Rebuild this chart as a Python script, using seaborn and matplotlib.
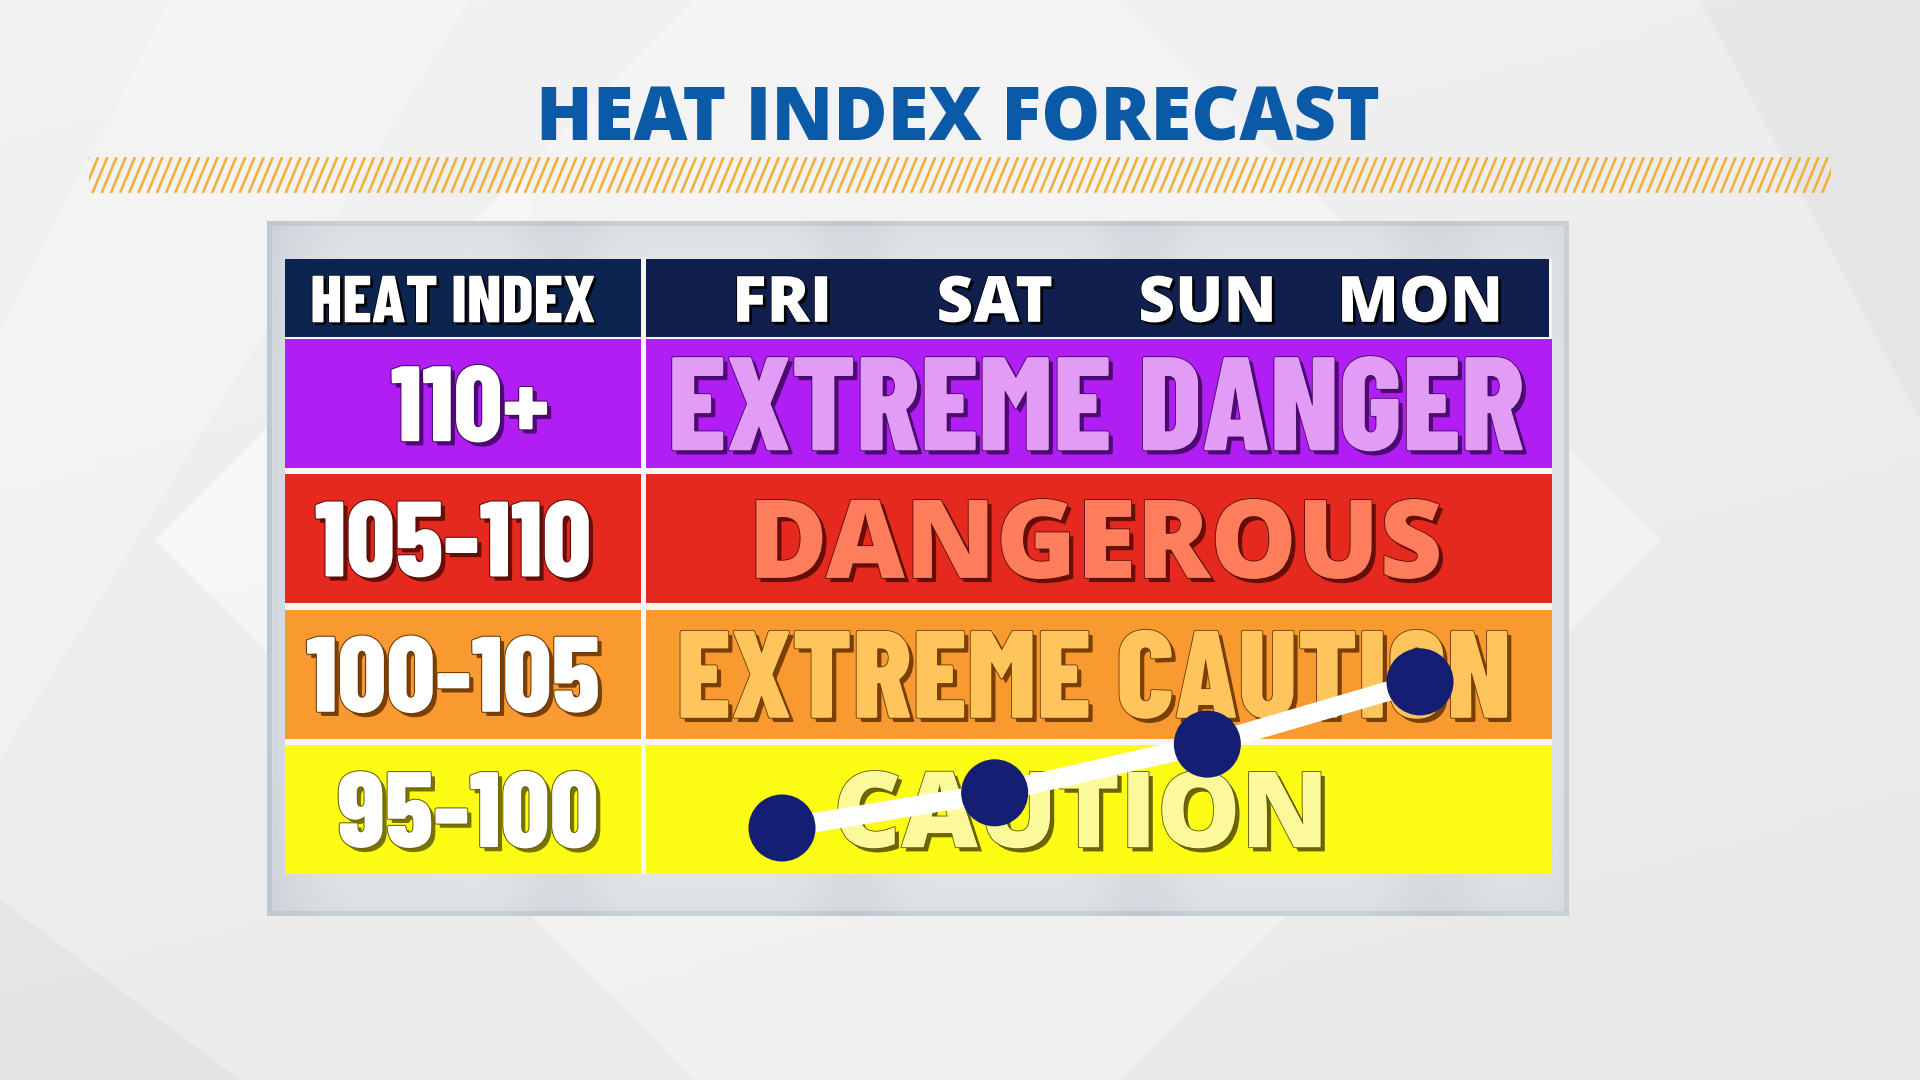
import matplotlib.pyplot as plt
import matplotlib.patheffects as pe
import numpy as np
import pandas as pd
import seaborn as sns

from matplotlib.collections import LineCollection
from matplotlib.colors import LinearSegmentedColormap
from matplotlib.patches import Polygon, Rectangle

sns.set_theme(style='white')
WIDE = ['Open Sans', 'DejaVu Sans']
NARROW = ['Barlow Condensed', 'Roboto Condensed', 'DejaVu Sans']
plt.rcParams['font.family'] = WIDE

# data
days = ['FRI', 'SAT', 'SUN', 'MON']
heat_index = [96.7, 98.0, 99.8, 102.1]

band_lows = [95, 100, 105, 110]
band_ranges = ['95-100', '100-105', '105-110', '110+']
band_names = ['CAUTION', 'EXTREME CAUTION', 'DANGEROUS', 'EXTREME DANGER']

# styles
band_colors = ['#fcfc14', '#f89a30', '#e5291f', '#b11ef3']
name_colors = ['#fbf99a', '#fdc55c', '#fd7d5c', '#e29cf6']
shadow_colors = ['#5e5600', '#6e3600', '#5a0c06', '#420866']
range_shadow = ['#6a6400', '#6e3600', '#5a0c06', '#420866']
name_fonts = [WIDE, NARROW, WIDE, NARROW]
name_widths = [496, 836, 695, 858]   # target widths in px
name_xpx = [1081, 1094, 1095, 1096]  # target centers in px
range_xpx = [468, 453, 453, 470]


def shadow(color, lw=1.5, off=3):
    return [pe.SimplePatchShadow(offset=(off, -off), shadow_rgbFace=color, alpha=0.9),
            pe.Stroke(linewidth=lw, foreground=color), pe.Normal()]


fig = plt.figure(figsize=(19.2, 10.8), dpi=100)
renderer = fig.canvas.get_renderer()


def fit(txt, width_px):
    w = txt.get_window_extent(renderer).width
    txt.set_fontsize(txt.get_fontsize() * width_px / w)


# background
bg = fig.add_axes([0, 0, 1, 1])
bg.set_xlim(0, 1920)
bg.set_ylim(1080, 0)
bg.axis('off')
gx, gy = np.meshgrid(np.linspace(0, 1, 200), np.linspace(0, 1, 120))
bg_cmap = LinearSegmentedColormap.from_list('bg', ['#e1e1e1', '#f6f6f6'])
bg.imshow(0.5 + 0.3 * (1 - gy) - 0.15 * gx, cmap=bg_cmap, vmin=0, vmax=1,
          extent=[0, 1920, 1080, 0], aspect='auto', zorder=0)
bg.add_patch(Polygon([[155, 540], [908, -215], [1662, 540], [908, 1295]],
                     closed=True, fc='white', alpha=0.3, ec='none', zorder=1))
bg.add_patch(Polygon([[155, 540], [530, 165], [530, 915]],
                     closed=True, fc='white', alpha=0.25, ec='none', zorder=1))
bg.add_patch(Polygon([[0, 330], [170, 0], [470, 0], [0, 760]],
                     closed=True, fc='white', alpha=0.25, ec='none', zorder=1))
bg.add_patch(Polygon([[1700, 0], [1920, 0], [1920, 420]],
                     closed=True, fc='#d8d8d8', alpha=0.3, ec='none', zorder=1))
bg.add_patch(Polygon([[0, 900], [240, 1080], [0, 1080]],
                     closed=True, fc='#d6d6d6', alpha=0.3, ec='none', zorder=1))

# title
title = fig.text(958 / 1920, 1 - 140 / 1080, 'HEAT INDEX FORECAST', color='#0b5aa7', fontsize=53,
                 fontweight=800, ha='center', va='baseline')
fit(title, 844)

# gold hatched stripe
st = fig.add_axes([89 / 1920, 1 - 193 / 1080, 1742 / 1920, 36 / 1080])
st.set_xlim(0, 1742)
st.set_ylim(0, 36)
st.axis('off')
starts = np.arange(-15, 1742, 9.2)
st.add_collection(LineCollection([[(s, 0), (s + 15, 36)] for s in starts],
                                 colors='#f1b23c', linewidths=1.9))

# silver panel
pn = fig.add_axes([267 / 1920, 1 - 916 / 1080, 1302 / 1920, 695 / 1080])
pn.axis('off')
px, py = np.meshgrid(np.linspace(0, 1, 260), np.linspace(0, 1, 140))
edge = np.minimum(np.minimum(px, 1 - px) * 6, 1) * np.minimum(np.minimum(py, 1 - py) * 5, 1)
pn_cmap = LinearSegmentedColormap.from_list('pn', ['#bcc3ca', '#eaeef1'])
pn.imshow(0.3 + 0.55 * edge ** 0.1 - 0.2 * np.cos(px * 14) ** 8, cmap=pn_cmap,
          vmin=0, vmax=1, aspect='auto', extent=[0, 1, 0, 1])
pn.set_xlim(0, 1)
pn.set_ylim(0, 1)

# table
ax = fig.add_axes([285 / 1920, 1 - 874 / 1080, 1267 / 1920, 615 / 1080])
px_day = 212.67
px_deg = 27.06
xmin, xmax = (285 - 782) / px_day, (1552 - 782) / px_day
ymin, ymax = 95, 95 + 615 / px_deg
ax.set_xlim(xmin, xmax)
ax.set_ylim(ymin, ymax)
ax.axis('off')
div_l, div_r = (641 - 782) / px_day, (646 - 782) / px_day
head_lo = 114.85


def baseline(center, fontsize, cap=0.7):
    return center - cap * fontsize * 100 / 72 / 2 / px_deg


ax.add_patch(Rectangle((xmin, ymin), xmax - xmin, ymax - ymin, fc='#f6f6f6', ec='none', zorder=1))

range_texts = []
for lo, rng, name, bc, nc, sc, rs, nf, nw, nx, rx in zip(band_lows, band_ranges, band_names, band_colors,
                                                         name_colors, shadow_colors, range_shadow,
                                                         name_fonts, name_widths, name_xpx, range_xpx):
    ax.add_patch(Rectangle((xmin, lo), div_l - xmin, 4.77, fc=bc, ec='none', zorder=2))
    ax.add_patch(Rectangle((div_r, lo), xmax - div_r, 4.77, fc=bc, ec='none', zorder=2))
    t = ax.text((rx - 782) / px_day, lo, rng, color='white', fontsize=70, fontweight=800,
                family=NARROW, ha='center', va='baseline', zorder=3, path_effects=shadow(rs, 1.5))
    range_texts.append((t, lo))
    n = ax.text((nx - 782) / px_day, lo, name, color=nc, fontsize=80, fontweight=800,
                family=nf, ha='center', va='baseline', zorder=3, path_effects=shadow(sc, 1.2))
    fit(n, nw)
    n.set_y(baseline(lo + 2.38, n.get_fontsize(), 0.7 if nf is NARROW else 0.714))

# all range labels share one size, fitted on the widest one
ref = range_texts[1][0]
fit(ref, 294)
for t, lo in range_texts:
    t.set_fontsize(ref.get_fontsize())
    t.set_y(baseline(lo + 2.38, t.get_fontsize()))

ax.add_patch(Rectangle((xmin, head_lo), div_l - xmin, ymax - head_lo, fc='#0c2550', ec='none', zorder=2))
ax.add_patch(Rectangle((div_r, head_lo), (1549 - 782) / px_day - div_r, ymax - head_lo,
                       fc='#111f4e', ec='none', zorder=2))
head_y = 95 + (874 - 299) / px_deg
hi = ax.text((453 - 782) / px_day, head_y, 'HEAT INDEX', color='white', fontsize=42, fontweight=800,
             family=NARROW, ha='center', va='baseline', zorder=3, path_effects=shadow('#000000', 1, 2))
fit(hi, 285)
hi.set_y(baseline(head_y, hi.get_fontsize()))
for i, day in enumerate(days):
    ax.text(i, baseline(head_y, 46, 0.714), day, color='white', fontsize=46, fontweight=800,
            ha='center', va='baseline', zorder=3, path_effects=shadow('#000000', 1, 2))

df = pd.DataFrame({'day': days, 'pos': range(len(days)), 'heat_index': heat_index})
sns.lineplot(data=df, x='pos', y='heat_index', color='white', linewidth=14, ax=ax, zorder=5)
sns.scatterplot(data=df, x='pos', y='heat_index', color='#141e72', s=2330, edgecolor='none',
                ax=ax, zorder=6)
ax.set_xlim(xmin, xmax)
ax.set_ylim(ymin, ymax)
ax.axis('off')

fig.savefig('out.png', dpi=100)
